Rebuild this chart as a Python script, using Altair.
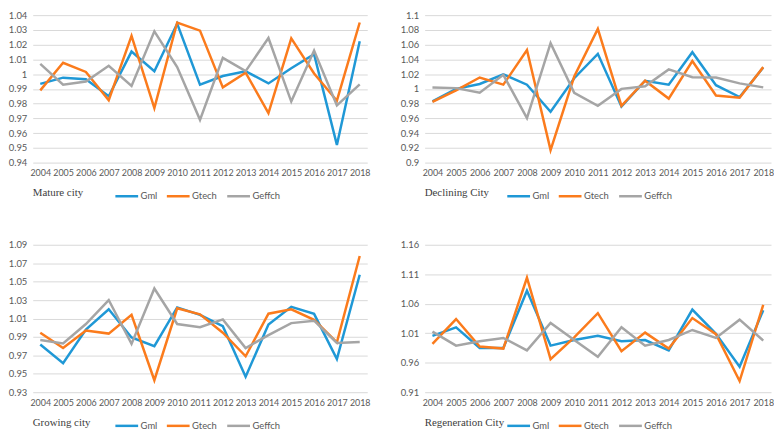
import altair as alt
import pandas as pd

years = [str(y) for y in range(2004, 2019)]
series = ["Gml", "Gtech", "Geffch"]
colors = ["#1f98d6", "#fb7b1c", "#a5a5a5"]
cities = ["Mature city", "Declining City", "Growing city", "Regeneration City"]

mature_gml = [0.9934, 0.9976, 0.9965, 0.985, 1.0153, 1.002, 1.0343, 0.9928, 0.9987, 1.002, 0.9937, 1.004, 1.0136, 0.952, 1.0223]
mature_gtech = [0.989, 1.0077, 1.0015, 0.9823, 1.026, 0.977, 1.035, 1.0295, 0.991, 1.001, 0.9735, 1.0243, 1.0004, 0.982, 1.035]
mature_geffch = [1.007, 0.9928, 0.995, 1.0057, 0.992, 1.029, 1.0048, 0.969, 1.011, 1.002, 1.0245, 0.9814, 1.016, 0.9788, 0.993]

declining_gml = [0.983, 1.0, 1.0066, 1.0198, 1.0057, 0.969, 1.0145, 1.0475, 0.976, 1.011, 1.0057, 1.0497, 1.005, 0.989, 1.029]
declining_gtech = [0.9824, 0.998, 1.0154, 1.0057, 1.0527, 0.917, 1.0167, 1.0813, 0.977, 1.011, 0.9868, 1.0378, 0.991, 0.988, 1.0295]
declining_geffch = [1.002, 1.001, 0.9947, 1.019, 0.9604, 1.062, 0.9947, 0.977, 1.0, 1.0035, 1.0264, 1.0158, 1.0154, 1.0075, 1.002]

growing_gml = [0.9817, 0.9614, 0.998, 1.020, 0.9894, 0.980, 1.022, 1.014, 1.0016, 0.9468, 1.0034, 1.0226, 1.015, 0.966, 1.0575]
growing_gtech = [0.9946, 0.978, 0.997, 0.9936, 1.014, 0.943, 1.021, 1.0145, 0.9946, 0.969, 1.0152, 1.020, 1.0086, 0.984, 1.0778]
growing_geffch = [0.9866, 0.983, 1.004, 1.030, 0.9824, 1.0425, 1.004, 1.0006, 1.009, 0.9779, 0.992, 1.005, 1.0076, 0.9835, 0.9845]

regen_gml = [1.0056, 1.020, 0.985, 0.985, 1.082, 0.989, 0.9985, 1.0056, 0.9963, 0.9985, 0.981, 1.050, 1.009, 0.953, 1.049]
regen_gtech = [0.992, 1.034, 0.9875, 0.984, 1.104, 0.966, 1.003, 1.044, 0.9795, 1.011, 0.984, 1.0357, 1.0084, 0.929, 1.058]
regen_geffch = [1.0127, 0.989, 0.9963, 1.002, 0.981, 1.0275, 0.9985, 0.970, 1.020, 0.989, 0.9985, 1.0155, 1.002, 1.033, 0.9975]

mature_ticks = [0.94, 0.95, 0.96, 0.97, 0.98, 0.99, 1.0, 1.01, 1.02, 1.03, 1.04]
declining_ticks = [0.9, 0.92, 0.94, 0.96, 0.98, 1.0, 1.02, 1.04, 1.06, 1.08, 1.1]
growing_ticks = [0.93, 0.95, 0.97, 0.99, 1.01, 1.03, 1.05, 1.07, 1.09]
regen_ticks = [0.91, 0.96, 1.01, 1.06, 1.11, 1.16]

LABEL_FONT = "Lato"
LABEL_COLOR = "#595959"


def panel(name, gml, gtech, geffch, ticks, w, h):
    rows = []
    for s, vals in zip(series, [gml, gtech, geffch]):
        for yr, v in zip(years, vals):
            rows.append({"year": yr, "value": v, "series": s})
    df = pd.DataFrame(rows)
    lines = alt.Chart(df).mark_line(strokeWidth=2.5).encode(
        x=alt.X("year:O", sort=years,
                scale=alt.Scale(type="point", padding=0.33),
                axis=alt.Axis(title=None, labelAngle=0, ticks=False, domain=False,
                              grid=False, labelPadding=6, labelFont=LABEL_FONT,
                              labelFontSize=9, labelColor=LABEL_COLOR)),
        y=alt.Y("value:Q",
                scale=alt.Scale(domain=[ticks[0], ticks[-1]], nice=False, zero=False),
                axis=alt.Axis(title=None, values=ticks, format="~r", ticks=False,
                              domain=False, gridColor="#d9d9d9", gridWidth=1,
                              labelPadding=6, labelFont=LABEL_FONT, labelFontSize=9.5,
                              labelColor=LABEL_COLOR)),
        color=alt.Color("series:N",
                        scale=alt.Scale(domain=series, range=colors),
                        sort=series,
                        legend=alt.Legend(orient="none", legendX=82, legendY=h + 21,
                                          direction="horizontal", title=None,
                                          symbolType="stroke", symbolSize=529,
                                          symbolStrokeWidth=2.5, labelFont=LABEL_FONT,
                                          labelFontSize=9.5, labelColor=LABEL_COLOR,
                                          labelOffset=1, columnPadding=4)),
    )
    label = alt.Chart(pd.DataFrame({"t": [name]})).mark_text(
        align="left", baseline="middle", font="Liberation Serif", fontSize=11,
        color="#404040"
    ).encode(text="t:N", x=alt.value(0), y=alt.value(h + 31))
    return alt.layer(lines, label).properties(width=w, height=h)


H = 149
p1 = panel(cities[0], mature_gml, mature_gtech, mature_geffch, mature_ticks, 338, H)
p2 = panel(cities[1], declining_gml, declining_gtech, declining_geffch, declining_ticks, 350, H)
p3 = panel(cities[2], growing_gml, growing_gtech, growing_geffch, growing_ticks, 338, H)
p4 = panel(cities[3], regen_gml, regen_gtech, regen_geffch, regen_ticks, 350, H)

chart = alt.concat(p1, p2, p3, p4, columns=2, spacing=alt.RowColnumber(column=30, row=39)).resolve_scale(
    x="independent", y="independent", color="independent"
).resolve_legend(color="independent").properties(padding=0).configure_view(stroke=None)

chart.save("out.html", embed_options={"renderer": "svg", "actions": False})
